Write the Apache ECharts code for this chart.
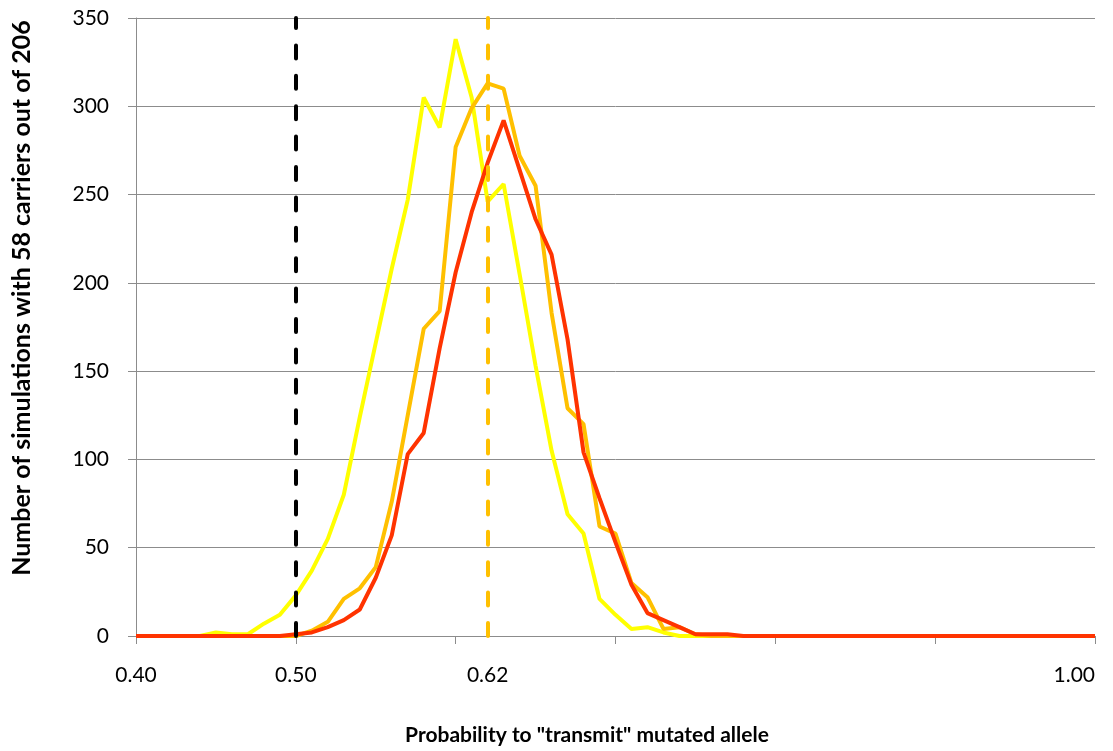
<!DOCTYPE html>
<html>
<head>
<meta charset="utf-8">
<script src="https://cdn.jsdelivr.net/npm/echarts@6/dist/echarts.min.js"></script>
<style>
  html, body { margin: 0; padding: 0; background: #fff; }
  #chart { width: 1113px; height: 751px; }
</style>
</head>
<body>
<div id="chart"></div>
<script>
// probability values on the x axis (one point per 0.01)
const categories = [
  '0.40', '0.41', '0.42', '0.43', '0.44', '0.45', '0.46', '0.47', '0.48', '0.49',
  '0.50', '0.51', '0.52', '0.53', '0.54', '0.55', '0.56', '0.57', '0.58', '0.59',
  '0.60', '0.61', '0.62', '0.63', '0.64', '0.65', '0.66', '0.67', '0.68', '0.69',
  '0.70', '0.71', '0.72', '0.73', '0.74', '0.75', '0.76', '0.77', '0.78', '0.79',
  '0.80', '0.81', '0.82', '0.83', '0.84', '0.85', '0.86', '0.87', '0.88', '0.89',
  '0.90', '0.91', '0.92', '0.93', '0.94', '0.95', '0.96', '0.97', '0.98', '0.99',
  '1.00'
];

const yellowValues = [
  0, 0, 0, 0, 0, 2, 1, 1, 7, 12,
  23, 37, 55, 80, 124, 166, 208, 247, 305, 288,
  338, 305, 246, 256, 205, 153, 105, 69, 58, 21,
  12, 4, 5, 2, 0, 0, 0, 0, 0, 0,
  0, 0, 0, 0, 0, 0, 0, 0, 0, 0,
  0, 0, 0, 0, 0, 0, 0, 0, 0, 0,
  0
];

const orangeValues = [
  0, 0, 0, 0, 0, 0, 0, 0, 0, 0,
  0, 3, 8, 21, 27, 39, 76, 125, 174, 184,
  277, 299, 313, 310, 272, 255, 183, 129, 120, 62,
  58, 30, 22, 4, 5, 1, 0, 0, 0, 0,
  0, 0, 0, 0, 0, 0, 0, 0, 0, 0,
  0, 0, 0, 0, 0, 0, 0, 0, 0, 0,
  0
];

const redValues = [
  0, 0, 0, 0, 0, 0, 0, 0, 0, 0,
  1, 2, 5, 9, 15, 33, 57, 103, 115, 163,
  206, 240, 268, 292, 264, 236, 216, 168, 104, 78,
  53, 29, 13, 9, 5, 1, 1, 1, 0, 0,
  0, 0, 0, 0, 0, 0, 0, 0, 0, 0,
  0, 0, 0, 0, 0, 0, 0, 0, 0, 0,
  0
];

// x labels that are shown, and where the ticks go
const xTickLabels = ['0.40', '0.50', '0.62', '1.00'];
const xTickMarks = ['0.40', '0.50', '0.60', '0.70', '0.80', '0.90', '1.00'];

// dashed reference lines
const refLines = ['0.50', '0.62'];
const refColors = ['#000000', '#FFC000'];

const chart = echarts.init(document.getElementById('chart'));

const font = 'Lato, "Open Sans", sans-serif';
const gridColor = '#8c8c8c';

chart.setOption({
  animation: false,
  grid: { left: 136, right: 18, top: 18, bottom: 115 },
  xAxis: {
    type: 'category',
    data: categories,
    boundaryGap: false,
    axisLine: { lineStyle: { color: gridColor, width: 1 } },
    axisTick: {
      show: true,
      length: 8,
      lineStyle: { color: gridColor },
      interval: (index, value) => xTickMarks.includes(value)
    },
    axisLabel: {
      interval: (index, value) => xTickLabels.includes(value),
      margin: 29,
      color: '#000',
      fontFamily: font,
      fontSize: 21,
      alignMaxLabel: 'right'
    },
    splitLine: { show: false }
  },
  yAxis: {
    type: 'value',
    min: 0,
    max: 350,
    interval: 50,
    axisLine: { show: true, lineStyle: { color: gridColor, width: 1 } },
    axisTick: { show: true, length: 8, lineStyle: { color: gridColor } },
    axisLabel: {
      margin: 27,
      color: '#000',
      fontFamily: font,
      fontSize: 21
    },
    splitLine: { show: true, lineStyle: { color: gridColor, width: 1 } }
  },
  graphic: [
    {
      type: 'text',
      x: 587,
      y: 735,
      style: {
        text: 'Probability to "transmit" mutated allele',
        font: 'bold 21px ' + font,
        fill: '#000',
        align: 'center',
        verticalAlign: 'middle'
      }
    },
    {
      type: 'text',
      x: 22,
      y: 298,
      rotation: Math.PI / 2,
      style: {
        text: 'Number of simulations with 58 carriers out of 206',
        font: 'bold 25px ' + font,
        fill: '#000',
        align: 'center',
        verticalAlign: 'middle'
      }
    }
  ],
  series: [
    {
      name: 'yellow',
      type: 'line',
      data: yellowValues,
      showSymbol: false,
      lineStyle: { color: '#FFFF00', width: 4 },
      itemStyle: { color: '#FFFF00' },
      z: 2
    },
    {
      name: 'orange',
      type: 'line',
      data: orangeValues,
      showSymbol: false,
      lineStyle: { color: '#FFC000', width: 4 },
      itemStyle: { color: '#FFC000' },
      z: 3
    },
    {
      name: 'red',
      type: 'line',
      data: redValues,
      showSymbol: false,
      lineStyle: { color: '#FF3300', width: 4 },
      itemStyle: { color: '#FF3300' },
      z: 4
    },
    {
      name: 'refs',
      type: 'line',
      data: [],
      z: 5,
      markLine: {
        silent: true,
        symbol: ['none', 'none'],
        label: { show: false },
        animation: false,
        data: refLines.map((x, i) => ({
          xAxis: x,
          lineStyle: { color: refColors[i], width: 4, type: [13, 17.4], cap: 'round' }
        }))
      }
    }
  ]
});
</script>
</body>
</html>
